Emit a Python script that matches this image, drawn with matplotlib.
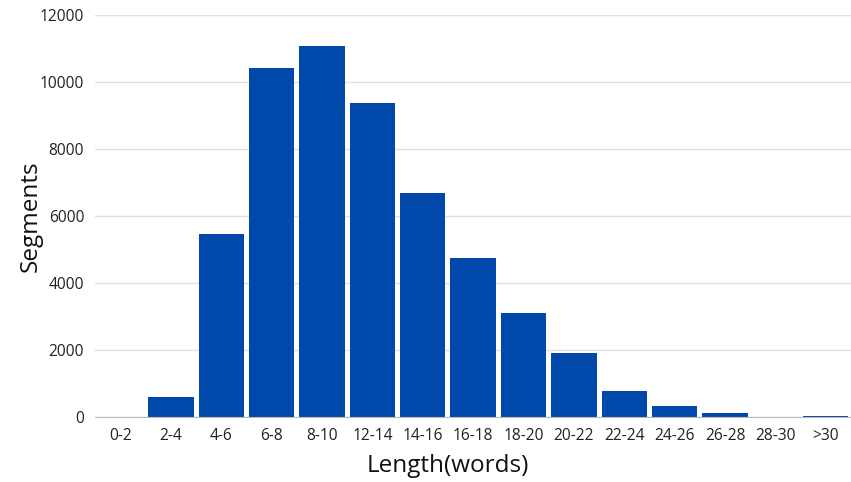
import matplotlib
matplotlib.use("Agg")
import matplotlib.pyplot as plt

plt.rcParams['font.family'] = ['Open Sans', 'DejaVu Sans']

categories = ['0-2', '2-4', '4-6', '6-8', '8-10', '12-14', '14-16', '16-18',
              '18-20', '20-22', '22-24', '24-26', '26-28', '28-30', '>30']
segments = [5, 600, 5460, 10410, 11070, 9370, 6680, 4750,
            3110, 1900, 770, 330, 120, 5, 30]

fig = plt.figure(figsize=(8.51, 4.82), dpi=100)
ax = fig.add_axes([0.112, 0.135, 0.888, 0.834])

x = list(range(len(categories)))
ax.bar(x, segments, width=0.9, color='#0049ab', zorder=3)

ax.set_xlim(-0.5, len(categories) - 0.5)
ax.set_ylim(0, 12000)
ax.set_yticks(range(0, 12001, 2000))
ax.set_xticks(x)
ax.set_xticklabels(categories)

ax.grid(axis='y', color='#e0e0e0', linewidth=1, zorder=0)
for s in ['top', 'right', 'left']:
    ax.spines[s].set_visible(False)
ax.spines['bottom'].set_color('#bbbbbb')
ax.spines['bottom'].set_zorder(4)
ax.tick_params(length=0, labelsize=11.2, labelcolor='#222222')
ax.tick_params(axis='y', pad=8)
ax.tick_params(axis='x', pad=8)

ax.set_xlabel('Length(words)', fontsize=17.5, color='#111111', va='center')
ax.set_ylabel('Segments', fontsize=17.5, color='#111111', va='center')
ax.xaxis.set_label_coords(0.466, -0.122)
ax.yaxis.set_label_coords(-0.085, 0.5)

fig.savefig('out.png', dpi=100)
